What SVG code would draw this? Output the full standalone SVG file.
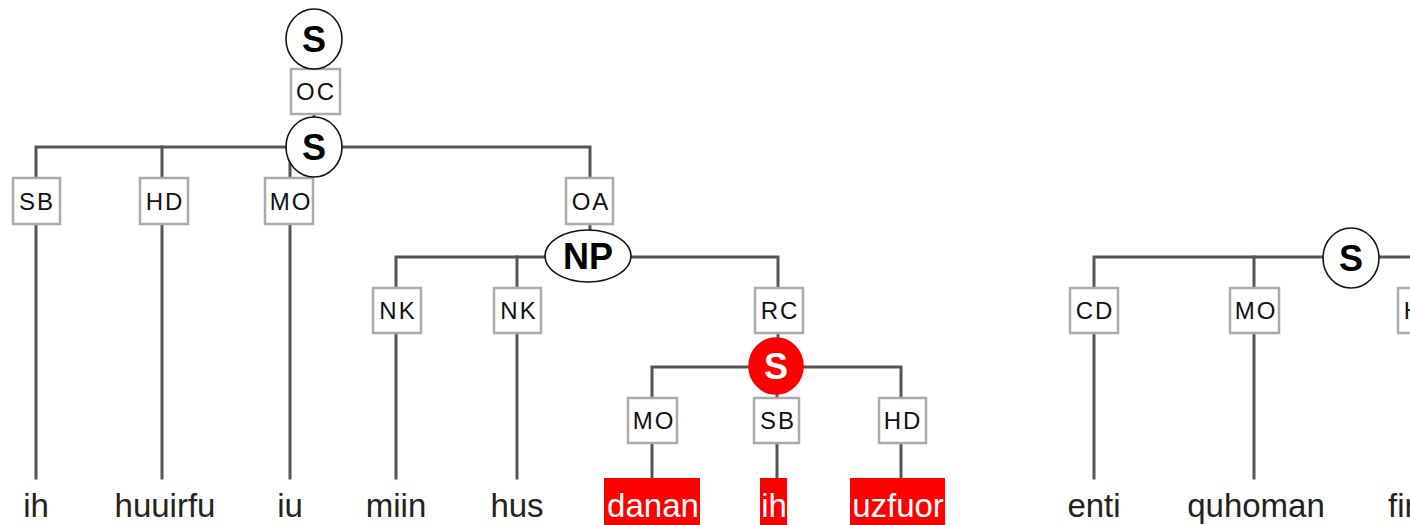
<svg xmlns="http://www.w3.org/2000/svg" width="1410" height="525" viewBox="0 0 1410 525">
  <style>
    .edge { fill: none; stroke: #555; stroke-width: 3; stroke-linejoin: miter; stroke-linecap: square; }
    .cat { fill: #fff; stroke: #111; stroke-width: 1.6; }
    .cat-hl { fill: #f00; stroke: #f00; stroke-width: 1.6; }
    .cat-text { font-family: "Liberation Sans", Arial, sans-serif; font-weight: bold; font-size: 36px; text-anchor: middle; fill: #000; }
    .cat-text-hl { fill: #fff; }
    .lbl { fill: #fff; stroke: #aaa; stroke-width: 2.5; }
    .lbl-text { font-family: "Liberation Sans", Arial, sans-serif; font-size: 24px; letter-spacing: 2px; text-anchor: middle; fill: #111; }
    .word { font-family: "Liberation Sans", Arial, sans-serif; font-size: 33px; text-anchor: middle; fill: #222; }
    .word-hl { fill: #fff; }
    .word-bg { fill: #f00; }
  </style>

  <!-- tree edges -->
  <g id="connectors">
    <path class="edge" d="M314 39 V147"/>
    <path class="edge" d="M36 478 V147 H590 V178"/>
    <path class="edge" d="M162 147 V478"/>
    <path class="edge" d="M290 147 V478"/>
    <path class="edge" d="M590 224 V257"/>
    <path class="edge" d="M396 478 V257 H778 V288"/>
    <path class="edge" d="M517 257 V478"/>
    <path class="edge" d="M778 333 V367"/>
    <path class="edge" d="M652 478 V367 H901 V478"/>
    <path class="edge" d="M777 367 V478"/>
    <path class="edge" d="M1094 478 V257 H1422"/>
    <path class="edge" d="M1254 257 V478"/>
  </g>

  <!-- edge labels -->
  <g id="lbl-oc"><rect class="lbl" x="291" y="69" width="49" height="45"/><text class="lbl-text" x="316" y="100">OC</text></g>
  <g id="lbl-sb1"><rect class="lbl" x="13" y="178" width="47" height="46"/><text class="lbl-text" x="37" y="210">SB</text></g>
  <g id="lbl-hd1"><rect class="lbl" x="140" y="178" width="48" height="46"/><text class="lbl-text" x="165" y="210">HD</text></g>
  <g id="lbl-mo1"><rect class="lbl" x="265" y="178" width="48" height="46"/><text class="lbl-text" x="291" y="210">MO</text></g>
  <g id="lbl-oa"><rect class="lbl" x="566" y="178" width="47" height="46"/><text class="lbl-text" x="591" y="210">OA</text></g>
  <g id="lbl-nk1"><rect class="lbl" x="373" y="288" width="48" height="45"/><text class="lbl-text" x="398" y="319">NK</text></g>
  <g id="lbl-nk2"><rect class="lbl" x="494" y="288" width="47" height="45"/><text class="lbl-text" x="519" y="319">NK</text></g>
  <g id="lbl-rc"><rect class="lbl" x="755" y="288" width="48" height="45"/><text class="lbl-text" x="780" y="319">RC</text></g>
  <g id="lbl-mo2"><rect class="lbl" x="628" y="398" width="49" height="45"/><text class="lbl-text" x="654" y="429">MO</text></g>
  <g id="lbl-sb2"><rect class="lbl" x="754" y="398" width="45" height="45"/><text class="lbl-text" x="778" y="429">SB</text></g>
  <g id="lbl-hd2"><rect class="lbl" x="879" y="398" width="47" height="45"/><text class="lbl-text" x="903" y="429">HD</text></g>
  <g id="lbl-cd"><rect class="lbl" x="1070" y="288" width="48" height="45"/><text class="lbl-text" x="1095" y="319">CD</text></g>
  <g id="lbl-mo3"><rect class="lbl" x="1230" y="288" width="49" height="45"/><text class="lbl-text" x="1256" y="319">MO</text></g>
  <g id="lbl-hd3"><rect class="lbl" x="1398" y="288" width="48" height="45"/><text class="lbl-text" x="1423" y="319">HD</text></g>

  <!-- category nodes -->
  <g id="node-s-root"><ellipse class="cat" cx="314" cy="39" rx="28" ry="30"/><text class="cat-text" x="314" y="52">S</text></g>
  <g id="node-s-main"><ellipse class="cat" cx="314" cy="147" rx="28" ry="30"/><text class="cat-text" x="314" y="160">S</text></g>
  <g id="node-np"><ellipse class="cat" cx="588" cy="256" rx="43" ry="26"/><text class="cat-text" x="588" y="269">NP</text></g>
  <g id="node-s-rel"><ellipse class="cat-hl" cx="776" cy="366" rx="27" ry="28"/><text class="cat-text cat-text-hl" x="776" y="379">S</text></g>
  <g id="node-s-right"><ellipse class="cat" cx="1351" cy="258" rx="28" ry="30"/><text class="cat-text" x="1351" y="271">S</text></g>

  <!-- terminal words -->
  <g id="w-ih"><text class="word" x="36" y="517">ih</text></g>
  <g id="w-huuirfu"><text class="word" x="165" y="517">huuirfu</text></g>
  <g id="w-iu"><text class="word" x="290" y="517">iu</text></g>
  <g id="w-miin"><text class="word" x="396" y="517">miin</text></g>
  <g id="w-hus"><text class="word" x="517" y="517">hus</text></g>
  <g id="w-danan"><rect class="word-bg" x="604" y="478" width="96" height="47"/><text class="word word-hl" x="653" y="517">danan</text></g>
  <g id="w-ih2"><rect class="word-bg" x="760" y="478" width="27" height="47"/><text class="word word-hl" x="774" y="517">ih</text></g>
  <g id="w-uzfuor"><rect class="word-bg" x="850" y="478" width="95" height="47"/><text class="word word-hl" x="898" y="517">uzfuor</text></g>
  <g id="w-enti"><text class="word" x="1094" y="517">enti</text></g>
  <g id="w-quhoman"><text class="word" x="1256" y="517">quhoman</text></g>
  <g id="w-fir"><text class="word" x="1388" y="517" style="text-anchor:start">fir</text></g>
</svg>
